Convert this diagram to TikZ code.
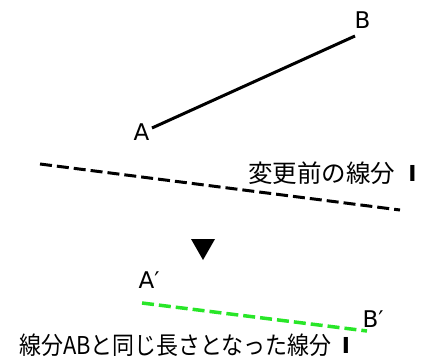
\documentclass[tikz,border=0pt]{standalone}
\usepackage{fontspec}
\newfontfamily\jp{Noto Sans CJK JP}
\newfontfamily\lat{DejaVu Sans}
\definecolor{segGreen}{RGB}{40,230,40}
\begin{document}
\begin{tikzpicture}[x=1pt,y=-1pt,
  ptlabel/.style={font=\lat\fontsize{23}{23}\selectfont, inner sep=0pt, anchor=base},
  jplabel/.style={font=\jp\fontsize{24.5}{24.5}\selectfont, inner sep=0pt, anchor=west},
  barmark/.style={font=\lat\bfseries\fontsize{22}{22}\selectfont, inner sep=0pt},
  seg/.style={line width=3pt},
  dashseg/.style={line width=3pt, dash pattern=on 12pt off 5pt}]
\useasboundingbox (0,0) rectangle (427,358);
% original segment
\coordinate (A) at (152,128);
\coordinate (B) at (355,36);
\draw[seg] (A) -- (B);
\node[ptlabel] (lA) at (141.5,140) {A};
\node[ptlabel] (lB) at (362.5,29) {B};
% black dashed line
\coordinate (D1) at (40,164);
\coordinate (D2) at (400,210);
\draw[dashseg] (D1) -- (D2);
\node[jplabel] (t1) at (248,173) {変更前の線分};
\node[barmark] (bar1) at (412.5,173.5) {I};
% arrow triangle
\fill (191,239) -- (215,239) -- (203,260) -- cycle;
% new segment
\coordinate (A2) at (142,303);
\coordinate (B2) at (367,331);
\draw[dashseg, segGreen, line width=3.5pt] (A2) -- (B2);
\node[ptlabel, anchor=base west] (lA2) at (138.5,288) {A′};
\node[ptlabel, anchor=base west] (lB2) at (362.5,327) {B′};
\node[jplabel] (t2) at (19,345.5) {\scalebox{0.895}[1]{線分ABと同じ長さとなった線分}};
\node[barmark] (bar2) at (346,345.5) {I};
\end{tikzpicture}
\end{document}
